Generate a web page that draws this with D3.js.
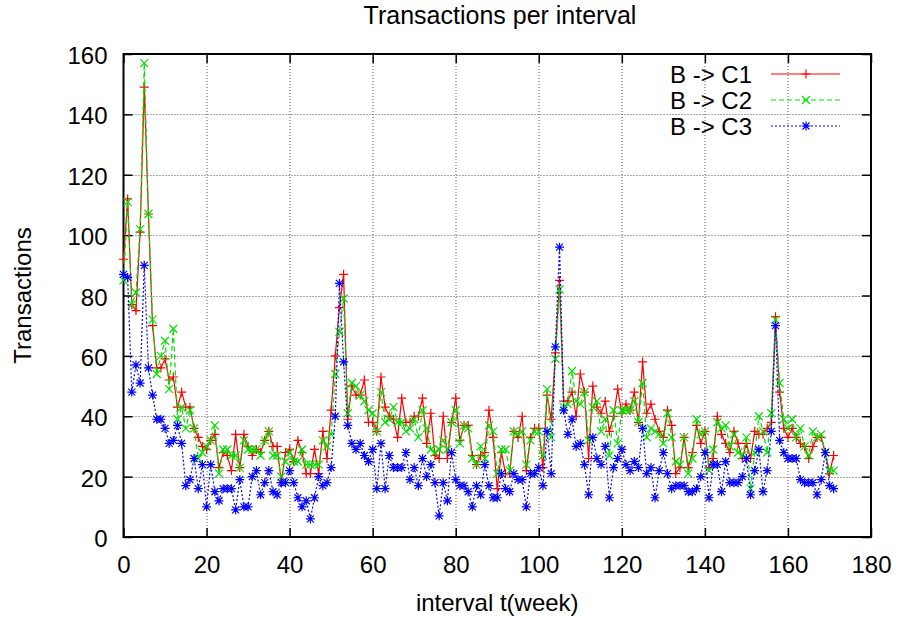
<!DOCTYPE html>
<html>
<head>
<meta charset="utf-8">
<script src="https://cdn.jsdelivr.net/npm/d3@7"></script>
<style>
  body { margin: 0; background: #fff; }
  text { font-family: "Liberation Sans", Arial, sans-serif; font-size: 24px; fill: #000; }
</style>
</head>
<body>
<div id="chart"></div>
<script>
// transactions per week (weeks 0..171)
const c1 = [92,112,77,75,101,149,107,70,56,56,59,52,53,43,48,43,43,36,33,30,29,32,34,23,
  28,27,22,34,23,34,30,27,29,28,32,35,30,30,18,28,29,25,32,28,21,21,29,21,35,
  26,42,60,76,87,39,50,47,47,52,38,38,35,53,43,40,39,33,46,38,38,40,40,46,31,41,
  27,26,40,26,38,46,32,37,37,27,24,27,28,42,33,16,28,21,21,35,33,40,22,33,36,
  36,23,47,39,61,85,45,45,48,40,54,48,26,50,43,41,45,35,40,49,41,44,42,48,38,58,
  41,44,39,35,33,42,37,21,23,33,23,28,37,31,35,23,26,40,34,31,28,35,31,26,31,
  26,35,34,34,36,38,73,48,36,33,36,33,31,30,26,30,33,33,28,21,27];
const c2 = [85,111,77,81,102,157,107,72,54,60,65,49,69,39,43,36,42,36,26,28,30,32,37,21,
  29,29,27,27,23,32,29,29,29,27,32,35,27,27,20,25,28,25,25,29,24,24,24,24,32,
  30,34,54,68,79,41,51,50,47,45,42,41,35,48,38,39,43,38,38,35,36,39,33,42,36,29,
  28,29,32,29,38,42,31,37,36,26,24,30,26,37,35,21,29,29,22,35,34,35,24,32,35,
  35,27,49,33,59,82,43,44,55,45,44,48,32,43,45,35,39,27,42,31,42,42,42,45,38,51,
  33,36,35,34,31,41,33,25,24,33,21,26,39,34,35,22,29,38,36,37,30,34,28,27,33,
  16,28,40,35,28,41,72,51,39,36,39,33,36,30,27,35,33,34,28,22,22];
const c3 = [87,86,48,57,51,90,56,47,39,39,36,31,32,37,31,17,19,26,16,24,10,24,15,12,
  16,16,16,9,19,10,10,20,22,14,18,22,15,14,18,18,22,18,13,10,12,6,13,20,17,
  18,23,40,84,58,37,31,29,31,27,25,29,16,31,16,27,23,23,23,28,19,23,17,26,20,24,
  18,7,18,12,28,19,17,17,15,10,17,14,24,17,13,13,21,16,15,21,19,19,10,21,21,
  23,17,35,21,63,96,42,34,39,30,31,24,14,33,26,24,30,13,23,26,29,24,22,25,23,36,
  21,23,13,22,28,21,16,17,17,17,15,15,16,20,28,13,24,24,15,25,18,18,18,20,26,
  14,22,29,15,22,35,70,32,28,26,26,26,19,18,18,18,14,19,28,17,16];

const seriesNames = ["B -> C1", "B -> C2", "B -> C3"];
const xTicks = [0, 20, 40, 60, 80, 100, 120, 140, 160, 180];
const yTicks = [0, 20, 40, 60, 80, 100, 120, 140, 160];

let W = 897, H = 618;
let margin = {top: 54, right: 26, bottom: 81, left: 123.5},
    width = W - margin.left - margin.right,
    height = H - margin.top - margin.bottom;

let svg = d3.select("#chart").append("svg")
  .attr("width", W).attr("height", H);

let g = svg.append("g")
  .attr("transform", "translate(" + margin.left + "," + margin.top + ")");

let x = d3.scaleLinear().domain([0, 180]).range([0, width]);
let y = d3.scaleLinear().domain([0, 160]).range([height, 0]);

// grid (dotted)
let grid = g.append("g").attr("stroke", "#555").attr("stroke-width", 1).attr("stroke-dasharray", "1,2");
grid.selectAll(".gx").data(xTicks.slice(1, -1)).enter().append("line")
  .attr("x1", d => Math.round(x(d)) + 0.5).attr("x2", d => Math.round(x(d)) + 0.5)
  .attr("y1", 0).attr("y2", height);
grid.selectAll(".gy").data(yTicks.slice(1, -1)).enter().append("line")
  .attr("y1", d => Math.round(y(d)) + 0.5).attr("y2", d => Math.round(y(d)) + 0.5)
  .attr("x1", 0).attr("x2", width);

// axes with inward ticks, mirrored on top/right
let tickLen = 9;
function styleAxis(sel) {
  sel.select(".domain").remove();
  sel.selectAll(".tick line").attr("stroke", "#000").attr("stroke-width", 1.5);
  sel.selectAll("text").style("font-size", "24px").attr("fill", "#000")
    .style("font-family", "'Liberation Sans', Arial, sans-serif");
}
g.append("g").attr("transform", "translate(0," + height + ")")
  .call(d3.axisBottom(x).tickValues(xTicks).tickSize(-tickLen).tickPadding(19))
  .call(styleAxis);
g.append("g")
  .call(d3.axisLeft(y).tickValues(yTicks).tickSize(-tickLen).tickPadding(16))
  .call(styleAxis)
  .selectAll("text").attr("dy", "0.4em");
g.append("g")
  .call(d3.axisTop(x).tickValues(xTicks).tickSize(-tickLen).tickFormat(""))
  .call(styleAxis);
g.append("g").attr("transform", "translate(" + width + ",0)")
  .call(d3.axisRight(y).tickValues(yTicks).tickSize(-tickLen).tickFormat(""))
  .call(styleAxis);

// border
g.append("rect").attr("x", 0).attr("y", 0).attr("width", width).attr("height", height)
  .attr("fill", "none").attr("stroke", "#000").attr("stroke-width", 2);

// marker shapes
const markers = [
  "M-4.5,0H4.5M0,-4.5V4.5",
  "M-4,-4L4,4M-4,4L4,-4",
  "M-4.5,0H4.5M0,-4.5V4.5M-3.5,-3.5L3.5,3.5M-3.5,3.5L3.5,-3.5"
];
const colors = ["#ff0000", "#00e000", "#0000ff"];
const dashes = [null, "5,3", "2,2"];
const allSeries = [c1, c2, c3];

let line = d3.line().x((d, i) => x(i)).y(d => y(d));

allSeries.forEach(function(vals, k) {
  let sg = g.append("g");
  sg.append("path").datum(vals)
    .attr("fill", "none")
    .attr("stroke", colors[k])
    .attr("stroke-width", 1.2)
    .attr("stroke-dasharray", dashes[k])
    .attr("d", line);
  sg.selectAll(".m").data(vals).enter().append("path")
    .attr("transform", (d, i) => "translate(" + x(i) + "," + y(d) + ")")
    .attr("d", markers[k])
    .attr("fill", "none")
    .attr("stroke", colors[k])
    .attr("stroke-width", 1.2);
});

// legend
let legend = svg.append("g");
seriesNames.forEach(function(name, k) {
  let ly = 74 + k * 26;
  legend.append("text").attr("x", 752).attr("y", ly).attr("dy", "0.36em")
    .attr("text-anchor", "end").text(name);
  legend.append("line").attr("x1", 771).attr("x2", 840).attr("y1", ly).attr("y2", ly)
    .attr("stroke", colors[k]).attr("stroke-width", 1.2).attr("stroke-dasharray", dashes[k]);
  legend.append("path").attr("transform", "translate(806," + ly + ")")
    .attr("d", markers[k]).attr("fill", "none").attr("stroke", colors[k]).attr("stroke-width", 1.2);
});

// title and axis labels
svg.append("text").attr("x", 500).attr("y", 24).attr("text-anchor", "middle")
  .style("font-size", "25px")
  .text("Transactions per interval");
svg.append("text").attr("x", margin.left + width / 2).attr("y", 611).attr("text-anchor", "middle")
  .text("interval t(week)");
svg.append("text").attr("text-anchor", "middle")
  .attr("transform", "translate(31," + (margin.top + height / 2) + ") rotate(-90)")
  .text("Transactions");
</script>
</body>
</html>
